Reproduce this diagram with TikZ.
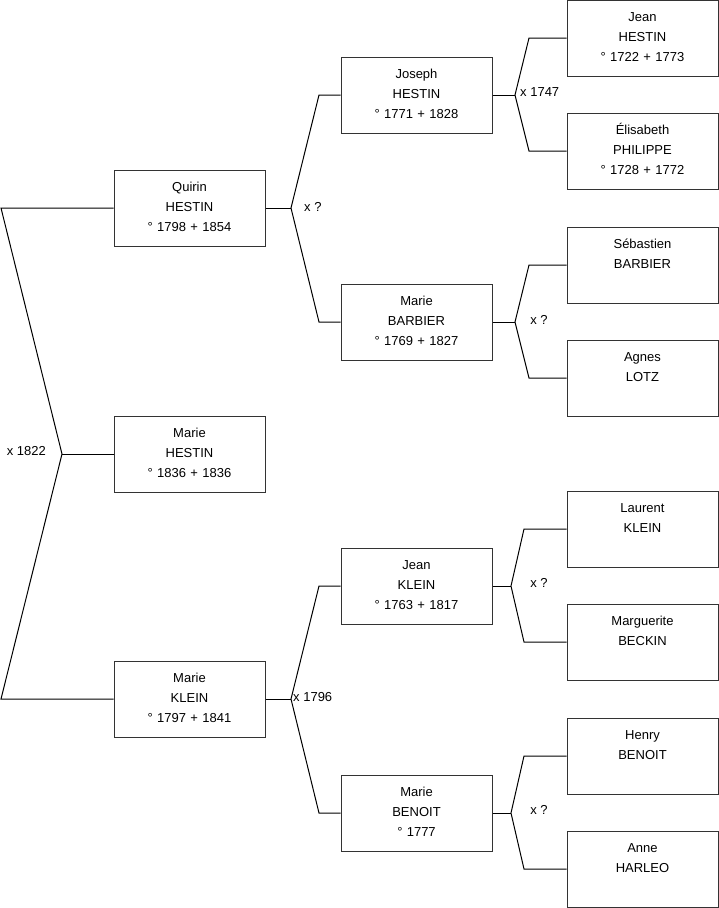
\documentclass[tikz,border=0pt]{standalone}
\usepackage{fontspec}
\setsansfont{Liberation Sans}

\begin{document}
\begin{tikzpicture}[
  x=1pt, y=-1pt,
  font=\sffamily\fontsize{13pt}{20pt}\selectfont,
  person/.style={
    draw=black!80,
    line width=1pt,
    fill=white,
    align=center,
    text width=139pt,
    inner xsep=6pt,
    inner ysep=6pt,
    text height=15pt,
    text depth=49pt
  },
  wed/.style={inner sep=0pt},
  link/.style={line width=1pt, draw=black}
]
\useasboundingbox (0,0) rectangle (719,908);

% generation 1
\node[person] (quirin) at (189.5,208) {Quirin\\HESTIN\\° 1798 + 1854};
\node[person] (marieH) at (189.5,454) {Marie\\HESTIN\\° 1836 + 1836};
\node[person] (marieK) at (189.5,699) {Marie\\KLEIN\\° 1797 + 1841};

% generation 2
\node[person] (joseph) at (416.5,95) {Joseph\\HESTIN\\° 1771 + 1828};
\node[person] (marieB) at (416.5,322) {Marie\\BARBIER\\° 1769 + 1827};
\node[person] (jeanK) at (416.5,586) {Jean\\KLEIN\\° 1763 + 1817};
\node[person] (marieBen) at (416.5,813) {Marie\\BENOIT\\° 1777};

% generation 3
\node[person] (jeanH) at (642.5,38) {Jean\\HESTIN\\° 1722 + 1773};
\node[person] (elisabeth) at (642.5,151) {Élisabeth\\PHILIPPE\\° 1728 + 1772};
\node[person] (sebastien) at (642.5,265) {Sébastien\\BARBIER};
\node[person] (agnes) at (642.5,378) {Agnes\\LOTZ};
\node[person] (laurent) at (642.5,529) {Laurent\\KLEIN};
\node[person] (marguerite) at (642.5,642) {Marguerite\\BECKIN};
\node[person] (henry) at (642.5,756) {Henry\\BENOIT};
\node[person] (anne) at (642.5,869) {Anne\\HARLEO};

% junctions and bends
\coordinate (j0) at (62,454);
\coordinate (b0a) at (1,208);
\coordinate (b0b) at (1,699);
\coordinate (jq) at (291,208);
\coordinate (bqa) at (319,95);
\coordinate (bqb) at (319,322);
\coordinate (jk) at (291,699);
\coordinate (bka) at (319,586);
\coordinate (bkb) at (319,813);
\coordinate (jj) at (515,95);
\coordinate (bja) at (529,38);
\coordinate (bjb) at (529,151);
\coordinate (jb) at (515,322);
\coordinate (bba) at (529,265);
\coordinate (bbb) at (529,378);
\coordinate (jl) at (511,586);
\coordinate (bla) at (524,529);
\coordinate (blb) at (524,642);
\coordinate (jn) at (511,813);
\coordinate (bna) at (524,756);
\coordinate (bnb) at (524,869);

\draw[link] (quirin.west) -- (b0a) -- (j0) -- (b0b) -- (marieK.west);
\draw[link] (j0) -- (marieH.west);
\draw[link] (joseph.west) -- (bqa) -- (jq) -- (bqb) -- (marieB.west);
\draw[link] (quirin.east) -- (jq);
\draw[link] (jeanK.west) -- (bka) -- (jk) -- (bkb) -- (marieBen.west);
\draw[link] (marieK.east) -- (jk);
\draw[link] (jeanH.west) -- (bja) -- (jj) -- (bjb) -- (elisabeth.west);
\draw[link] (joseph.east) -- (jj);
\draw[link] (sebastien.west) -- (bba) -- (jb) -- (bbb) -- (agnes.west);
\draw[link] (marieB.east) -- (jb);
\draw[link] (laurent.west) -- (bla) -- (jl) -- (blb) -- (marguerite.west);
\draw[link] (jeanK.east) -- (jl);
\draw[link] (henry.west) -- (bna) -- (jn) -- (bnb) -- (anne.west);
\draw[link] (marieBen.east) -- (jn);

% marriages
\node[wed, anchor=east] (w0) at (46,451) {x 1822};
\node[wed, anchor=west] (wq) at (304,207) {x ?};
\node[wed, anchor=west] (wk) at (293,697) {x 1796};
\node[wed, anchor=west] (wj) at (520,92) {x 1747};
\node[wed] (wb) at (539,320) {x ?};
\node[wed] (wl) at (539,583) {x ?};
\node[wed] (wn) at (539,810) {x ?};

\end{tikzpicture}
\end{document}
